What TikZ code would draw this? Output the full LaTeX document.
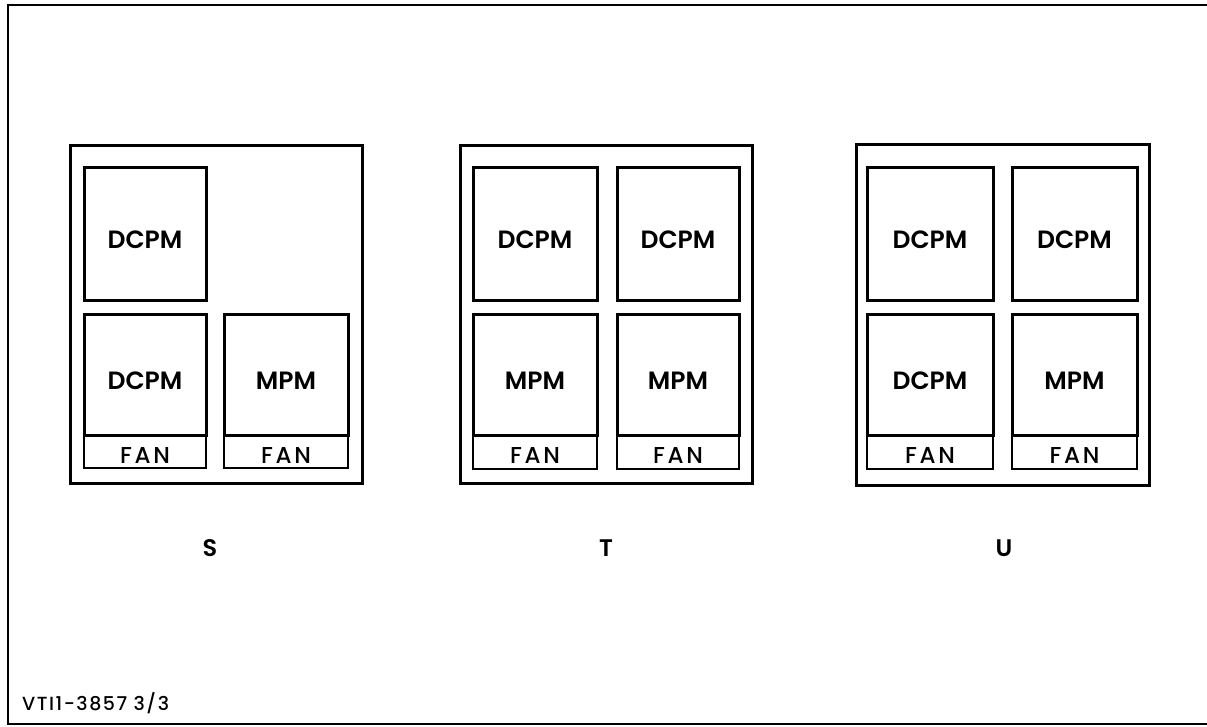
\documentclass[tikz,border=0pt]{standalone}
\usepackage{fontspec}
\setmainfont{Poppins}
\newfontfamily\modfont{Poppins SemiBold}
\newfontfamily\fanfont{Poppins Medium}[LetterSpace=12]
\newfontfamily\capfont{Poppins Medium}[LetterSpace=8]
\begin{document}
\begin{tikzpicture}[x=1pt,y=-1pt,
  cab/.style={draw, line width=3pt, inner sep=0pt},
  mod/.style={draw, line width=3pt, inner sep=0pt, font=\modfont\fontsize{25}{25}\selectfont, text height=29.5pt, text depth=0pt},
  fanbox/.style={draw, line width=1.8pt, inner sep=0pt, minimum height=33pt, font=\fanfont\fontsize{23}{23}\selectfont, text height=23pt, text depth=0pt},
  lbl/.style={font=\modfont\fontsize{24}{24}\selectfont},
]
\useasboundingbox (0,0) rectangle (1207,726);
% frame
\draw[line width=2.8pt] (1207,5) -- (8,5) -- (8,724) -- (1207,724);

% cabinet S
\node[cab, minimum width=292pt, minimum height=338pt] (S) at (216,314) {};
\node[fanbox, minimum width=122pt] (sf2) at (145,451.5) {FAN};
\node[fanbox, minimum width=124pt] (sf3) at (286,451.5) {FAN};
\node[mod, minimum width=122pt, minimum height=133pt] (s1) at (145,233.5) {DCPM};
\node[mod, minimum width=122pt, minimum height=121pt] (s2) at (145,374.5) {DCPM};
\node[mod, minimum width=124pt, minimum height=121pt] (s3) at (286,374.5) {MPM};
\node[lbl] (Sl) at (210,548) {S};

% cabinet T
\node[cab, minimum width=292pt, minimum height=338pt] (T) at (606,314) {};
\node[fanbox, minimum width=124pt, minimum height=34pt] (tf3) at (535,452) {FAN};
\node[fanbox, minimum width=122pt, minimum height=34pt] (tf4) at (678,452) {FAN};
\node[mod, minimum width=124pt, minimum height=133pt] (t1) at (535,233.5) {DCPM};
\node[mod, minimum width=122pt, minimum height=133pt] (t2) at (678,233.5) {DCPM};
\node[mod, minimum width=124pt, minimum height=121pt] (t3) at (535,374.5) {MPM};
\node[mod, minimum width=122pt, minimum height=121pt] (t4) at (678,374.5) {MPM};
\node[lbl] (Tl) at (606,548) {T};

% cabinet U
\node[cab, minimum width=293pt, minimum height=341pt] (U) at (1002.5,314.5) {};
\node[fanbox, minimum width=126pt, minimum height=34pt] (uf3) at (930,452) {FAN};
\node[fanbox, minimum width=125pt, minimum height=34pt] (uf4) at (1074.5,452) {FAN};
\node[mod, minimum width=126pt, minimum height=133pt] (u1) at (930,233.5) {DCPM};
\node[mod, minimum width=125pt, minimum height=133pt] (u2) at (1074.5,233.5) {DCPM};
\node[mod, minimum width=126pt, minimum height=121pt] (u3) at (930,374.5) {DCPM};
\node[mod, minimum width=125pt, minimum height=121pt] (u4) at (1074.5,374.5) {MPM};
\node[lbl] (Ul) at (1004,548) {U};

% caption
\node[anchor=west, font=\capfont\fontsize{19}{19}\selectfont, inner sep=0pt] (cap) at (22,703) {VTI1-3857 3/3};
\end{tikzpicture}
\end{document}
